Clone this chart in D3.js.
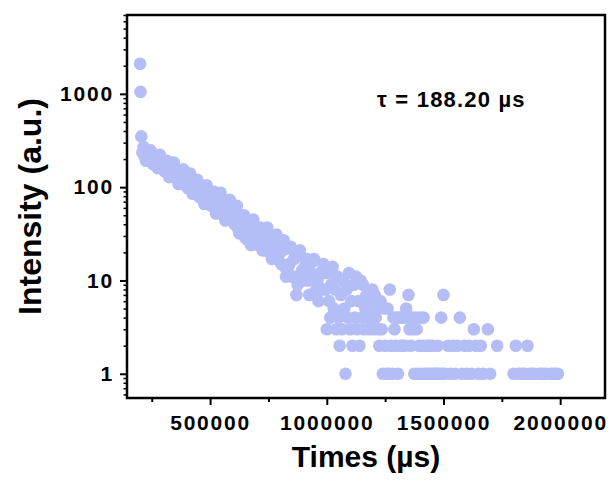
<!DOCTYPE html>
<html>
<head>
<meta charset="utf-8">
<script src="https://cdn.jsdelivr.net/npm/d3@7/dist/d3.min.js"></script>
<style>
  html, body { margin: 0; padding: 0; background: #ffffff; }
  svg { display: block; }
  text { font-family: "Liberation Sans", Arial, sans-serif; font-weight: bold; fill: #000; }
</style>
</head>
<body>
<svg id="chart" width="612" height="486"></svg>
<script>
// ---- Data ----
const times = [
  200000, 202000, 205000, 210000, 220000, 230000, 240000, 250000, 260000, 270000,
  280000, 290000, 300000, 310000, 320000, 330000, 340000, 350000, 360000, 370000,
  380000, 390000, 400000, 410000, 420000, 430000, 440000, 450000, 460000, 470000,
  480000, 490000, 500000, 510000, 520000, 530000, 540000, 550000, 560000, 570000,
  580000, 590000, 600000, 610000, 620000, 630000, 640000, 650000, 660000, 670000,
  680000, 690000, 700000, 710000, 720000, 730000, 740000, 750000, 760000, 770000,
  780000, 790000, 800000, 810000, 820000, 830000, 840000, 850000, 860000, 870000,
  880000, 890000, 900000, 910000, 920000, 930000, 940000, 950000, 960000, 970000,
  980000, 990000,
  1000000, 1005000, 1010000, 1015000, 1020000, 1025000, 1030000, 1035000, 1040000, 1045000,
  1050000, 1055000, 1060000, 1065000, 1070000, 1075000, 1080000, 1085000, 1090000, 1095000,
  1100000, 1105000, 1110000, 1115000, 1120000, 1125000, 1130000, 1135000, 1140000, 1145000,
  1150000, 1155000, 1160000, 1165000, 1170000, 1175000, 1180000, 1185000, 1190000, 1195000,
  1200000, 1205000, 1210000, 1215000, 1220000, 1225000, 1230000, 1235000, 1240000, 1245000,
  1250000, 1255000, 1260000, 1265000, 1270000, 1275000, 1280000, 1285000, 1290000, 1295000,
  1300000, 1305000, 1310000, 1315000, 1320000, 1325000, 1330000, 1335000, 1340000, 1345000,
  1350000, 1355000, 1360000, 1365000, 1370000, 1375000, 1380000, 1385000, 1390000, 1395000,
  1400000, 1405000, 1410000, 1415000, 1420000, 1425000, 1430000, 1435000, 1440000, 1445000,
  1450000, 1455000, 1460000, 1465000, 1470000, 1475000, 1480000, 1485000, 1490000, 1495000,
  1500000, 1505000,
  1520000, 1530000, 1540000, 1550000, 1560000, 1570000, 1580000, 1590000, 1600000, 1610000,
  1620000, 1630000, 1640000, 1650000, 1660000, 1670000, 1690000, 1700000, 1730000,
  1800000, 1810000, 1820000, 1830000, 1840000, 1850000, 1860000, 1870000, 1880000, 1890000,
  1910000, 1920000, 1930000, 1940000, 1960000, 1970000, 1980000, 1990000
];
const counts = [
  2100, 1050, 350, 235, 213, 236, 213, 190, 207, 212,
  178, 178, 185, 153, 163, 173, 131, 142, 146, 125,
  137, 108, 118, 114, 95, 115, 96, 82, 96, 101,
  76, 78, 85, 65, 73, 82, 53, 62, 66, 53,
  63, 45, 51, 49, 36, 49, 37, 29, 39, 43,
  30, 32, 36, 25, 30, 35, 21, 26, 28, 22,
  28, 17, 21, 21, 14, 22, 15, 11, 17, 7,
  19, 12, 12, 15, 10, 12, 16, 7, 10, 12,
  8, 12,
  3, 12, 6, 4, 9, 14, 5, 8, 3, 11,
  4, 2, 7, 3, 10, 5, 1, 8, 4, 12,
  3, 6, 2, 9, 4, 11, 3, 6, 2, 10,
  4, 9, 3, 5, 7, 4, 3, 6, 4, 8,
  3, 7, 4, 5, 3, 2, 6, 3, 1, 5,
  2, 1, 5, 1, 8, 2, 1, 4, 3, 2,
  4, 1, 4, 2, 4, 2, 4, 2, 5, 4,
  7, 3, 2, 4, 3, 1, 4, 3, 1, 2,
  4, 1, 2, 4, 1, 2, 1, 2, 1, 2,
  1, 2, 1, 1, 1, 2, 1, 1, 4, 1,
  7, 1,
  2, 1, 2, 1, 2, 4, 1, 2, 1, 2,
  1, 3, 2, 1, 2, 1, 3, 1, 2,
  1, 2, 1, 1, 1, 1, 2, 1, 1, 1,
  1, 1, 1, 1, 1, 1, 1, 1
];
// in-between channels of the dense decay band
const bandTimes = [
  215000, 225000, 235000, 245000, 255000, 265000, 275000, 285000, 295000, 305000,
  315000, 325000, 335000, 345000, 355000, 365000, 375000, 385000, 395000, 405000,
  415000, 425000, 435000, 445000, 455000, 465000, 475000, 485000, 495000, 505000,
  515000, 525000, 535000, 545000, 555000, 565000, 575000, 585000, 595000, 605000,
  615000, 625000, 635000, 645000, 655000, 665000, 675000, 685000, 695000, 705000,
  715000, 725000, 735000, 745000, 755000, 765000, 775000, 785000, 795000, 805000,
  815000, 825000, 835000, 845000, 855000, 865000, 875000, 885000, 895000, 905000,
  915000, 925000, 935000, 945000, 955000, 965000, 975000, 985000, 995000
];
const bandCounts = [
  270, 192, 206, 248, 177, 214, 160, 222, 176, 148,
  192, 128, 160, 183, 126, 108, 145, 155, 114, 97,
  140, 85, 93, 120, 78, 99, 66, 105, 77, 63,
  90, 52, 72, 87, 53, 44, 66, 73, 49, 40,
  63, 32, 36, 50, 28, 41, 24, 45, 31, 24,
  37, 21, 30, 37, 20, 17, 28, 31, 19, 15,
  27, 11, 14, 23, 11, 18, 9, 21, 13, 10,
  17, 7, 12, 17, 8, 6, 12, 15, 8
];
const xTickValues = [500000, 1000000, 1500000, 2000000];
const xMinorTickValues = [250000, 750000, 1250000, 1750000];
const yTickValues = [1, 10, 100, 1000];
const xTitle = "Times (\u00B5s)";
const yTitle = "Intensity (a.u.)";
const annotation = "\u03C4 = 188.20 \u00B5s";

// ---- Layout ----
const svg = d3.select("#chart");
const L = 127, R = 605, T = 15, B = 398;

const x = d3.scaleLinear().domain([144000, 2192000]).range([L, R]);
const y = d3.scaleLog().domain([0.55, 7000]).range([B, T]);

const yMinor = [];
[0.1, 1, 10, 100, 1000].forEach(d => {
  for (let k = 2; k <= 9; k++) {
    const v = d * k;
    if (v >= 0.55 && v <= 7000) yMinor.push(v);
  }
});

const data = times.map((t, i) => ({ t, v: counts[i] }))
  .concat(bandTimes.map((t, i) => ({ t, v: bandCounts[i] })))
  .filter(d => d.v > 0);

// points
svg.append("g")
  .selectAll("circle")
  .data(data)
  .join("circle")
  .attr("cx", d => x(d.t))
  .attr("cy", d => y(d.v))
  .attr("r", 6.3)
  .attr("fill", "#b4bdf6");

// y axis major
const gy = svg.append("g").attr("transform", `translate(${L},0)`)
  .call(d3.axisLeft(y).tickValues(yTickValues).tickFormat(d3.format("d")).tickSize(7).tickPadding(6));
gy.select(".domain").remove();
gy.selectAll(".tick line").attr("stroke", "#000").attr("stroke-width", 2);
gy.selectAll(".tick text").attr("font-size", 21).attr("letter-spacing", 1.8)
  .style("font-family", '"Liberation Sans", Arial, sans-serif').style("font-weight", "bold");

// y axis minor
const gym = svg.append("g").attr("transform", `translate(${L},0)`)
  .call(d3.axisLeft(y).tickValues(yMinor).tickFormat("").tickSize(3.5));
gym.select(".domain").remove();
gym.selectAll(".tick line").attr("stroke", "#000").attr("stroke-width", 1.5);

// x axis major
const gx = svg.append("g").attr("transform", `translate(0,${B})`)
  .call(d3.axisBottom(x).tickValues(xTickValues).tickFormat(d3.format("d")).tickSize(7).tickPadding(10));
gx.select(".domain").remove();
gx.selectAll(".tick line").attr("stroke", "#000").attr("stroke-width", 2);
gx.selectAll(".tick text").attr("font-size", 21).attr("letter-spacing", 1.8)
  .style("font-family", '"Liberation Sans", Arial, sans-serif').style("font-weight", "bold");

// x axis minor
const gxm = svg.append("g").attr("transform", `translate(0,${B})`)
  .call(d3.axisBottom(x).tickValues(xMinorTickValues).tickFormat("").tickSize(4));
gxm.select(".domain").remove();
gxm.selectAll(".tick line").attr("stroke", "#000").attr("stroke-width", 2);

// frame
svg.append("rect")
  .attr("x", L).attr("y", T).attr("width", R - L).attr("height", B - T)
  .attr("fill", "none").attr("stroke", "#000").attr("stroke-width", 2.5);

// titles
svg.append("text")
  .attr("x", (L + R) / 2).attr("y", 467)
  .attr("text-anchor", "middle").attr("font-size", 30)
  .text(xTitle);

svg.append("text")
  .attr("transform", `translate(41,${(T + B) / 2}) rotate(-90)`)
  .attr("text-anchor", "middle").attr("font-size", 32)
  .text(yTitle);

svg.append("text")
  .attr("x", 377).attr("y", 107)
  .attr("font-size", 22).attr("letter-spacing", 1.2)
  .text(annotation);
</script>
</body>
</html>
